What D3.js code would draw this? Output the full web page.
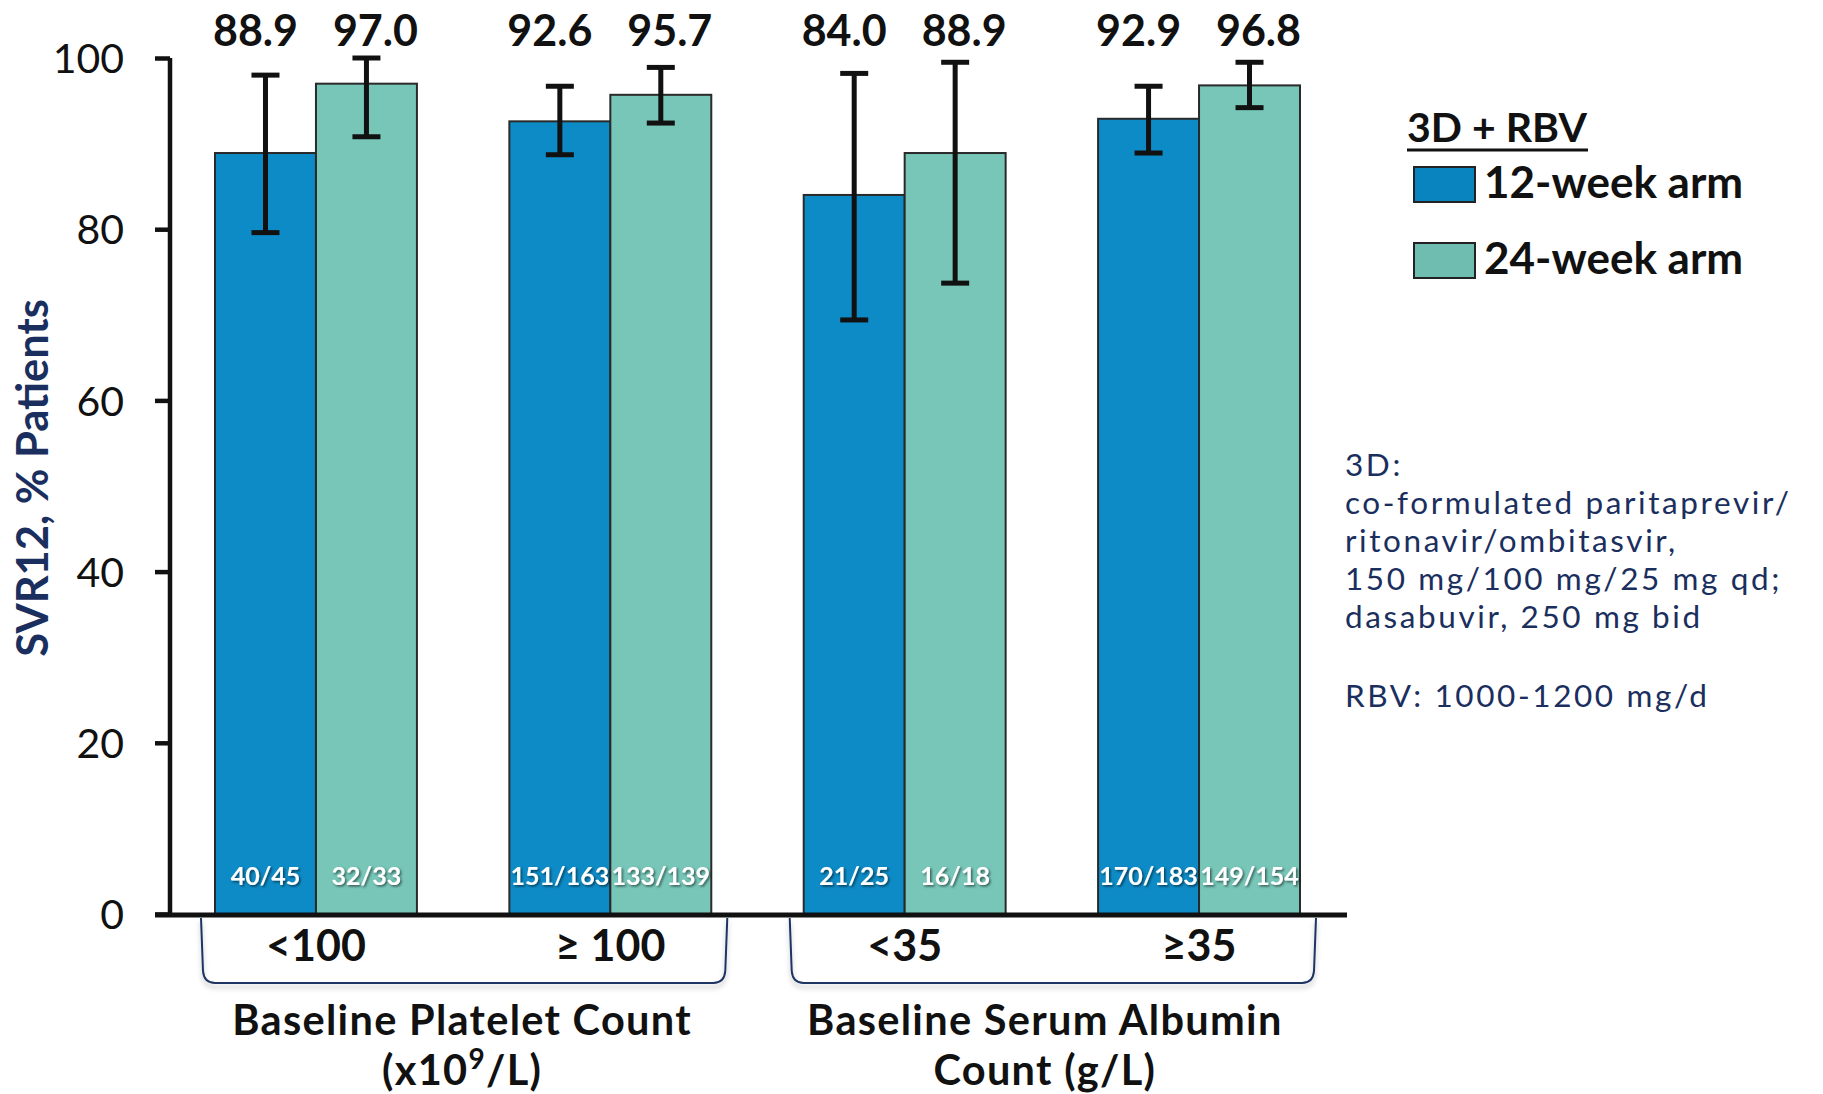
<!DOCTYPE html>
<html>
<head>
<meta charset="utf-8">
<script src="https://cdn.jsdelivr.net/npm/d3@7"></script>
<style>
  html, body { margin: 0; padding: 0; background: #fff; }
  svg { display: block; font-family: Lato, "Open Sans", sans-serif; }
</style>
</head>
<body>
<svg id="chart" width="1823" height="1094"></svg>
<script>
// ---- data ----
const categories = ["<100", "\u2265 100", "<35", "\u226535"];
const seriesNames = ["12-week arm", "24-week arm"];
const week12 = [88.9, 92.6, 84.0, 92.9];
const week24 = [97.0, 95.7, 88.9, 96.8];
const week12Low = [79.6, 88.7, 69.4, 88.9];
const week12High = [98.0, 96.7, 98.2, 96.7];
const week24Low = [90.8, 92.4, 73.7, 94.2];
const week24High = [100.0, 98.9, 99.5, 99.5];
const week12Counts = ["40/45", "151/163", "21/25", "170/183"];
const week24Counts = ["32/33", "133/139", "16/18", "149/154"];
const groupTitles = [["Baseline Platelet Count", "(x10", "9", "/L)"], ["Baseline Serum Albumin", "Count (g/L)"]];
const yTicks = [0, 20, 40, 60, 80, 100];
const legendTitle = "3D + RBV";
const noteLines = ["3D:", "co-formulated paritaprevir/", "ritonavir/ombitasvir,", "150 mg/100 mg/25 mg qd;", "dasabuvir, 250 mg bid", "", "RBV: 1000-1200 mg/d"];

// ---- styling ----
const colors = ["#0d8bc6", "#77c6b8"];
const legendColors = ["#0a84bf", "#6fbcb0"];
const navy = "#1b2f5e";

const svg = d3.select("#chart");
const defs = svg.append("defs");
const f1 = defs.append("filter").attr("id", "txtShadow").attr("x", "-20%").attr("y", "-30%").attr("width", "140%").attr("height", "160%");
f1.append("feDropShadow").attr("dx", 1.5).attr("dy", 1.5).attr("stdDeviation", 0.8).attr("flood-color", "#000").attr("flood-opacity", 0.55);
const f2 = defs.append("filter").attr("id", "brShadow").attr("x", "-5%").attr("y", "-20%").attr("width", "110%").attr("height", "150%");
f2.append("feDropShadow").attr("dx", 0).attr("dy", 4).attr("stdDeviation", 2.5).attr("flood-color", "#000").attr("flood-opacity", 0.25);

const axisX = 170;
const y = d3.scaleLinear().domain([0, 100]).range([914, 58]);
const x = d3.scaleBand().domain(categories).range([215, 1300]).paddingInner(0.314).paddingOuter(0);
const xs = d3.scaleBand().domain([0, 1]).range([0, x.bandwidth()]);

const rows = categories.map((c, i) => ({
  cat: c,
  vals: [
    {s: 0, v: week12[i], lo: week12Low[i], hi: week12High[i], n: week12Counts[i]},
    {s: 1, v: week24[i], lo: week24Low[i], hi: week24High[i], n: week24Counts[i]}
  ]
}));

// bars
const g = svg.append("g");
const grp = g.selectAll("g.grp").data(rows).join("g").attr("class", "grp")
  .attr("transform", d => `translate(${x(d.cat)},0)`);

grp.selectAll("rect").data(d => d.vals).join("rect")
  .attr("x", d => xs(d.s))
  .attr("y", d => y(d.v))
  .attr("width", xs.bandwidth())
  .attr("height", d => y(0) - y(d.v))
  .attr("fill", d => colors[d.s])
  .attr("stroke", "#2a2a2a")
  .attr("stroke-width", 2);

// error bars
const capW = 28;
const eb = grp.selectAll("g.eb").data(d => d.vals).join("g").attr("class", "eb")
  .attr("transform", d => `translate(${xs(d.s) + xs.bandwidth() / 2},0)`);
eb.append("line").attr("x1", 0).attr("x2", 0).attr("y1", d => y(d.hi)).attr("y2", d => y(d.lo))
  .attr("stroke", "#111").attr("stroke-width", 5);
eb.append("line").attr("x1", -capW / 2).attr("x2", capW / 2).attr("y1", d => y(d.hi)).attr("y2", d => y(d.hi))
  .attr("stroke", "#111").attr("stroke-width", 5);
eb.append("line").attr("x1", -capW / 2).attr("x2", capW / 2).attr("y1", d => y(d.lo)).attr("y2", d => y(d.lo))
  .attr("stroke", "#111").attr("stroke-width", 5);

// value labels
grp.selectAll("text.val").data(d => d.vals).join("text").attr("class", "val")
  .attr("x", d => xs(d.s) + xs.bandwidth() / 2 + (d.s === 0 ? -10 : 9))
  .attr("y", 46)
  .attr("text-anchor", "middle")
  .attr("font-size", 43).attr("font-weight", 700).attr("fill", "#111")
  .text(d => d.v.toFixed(1));

// count labels
grp.selectAll("text.cnt").data(d => d.vals).join("text").attr("class", "cnt")
  .attr("x", d => xs(d.s) + xs.bandwidth() / 2)
  .attr("y", 885)
  .attr("text-anchor", "middle")
  .attr("font-size", 25).attr("font-weight", 700).attr("fill", "#fff")
  .attr("filter", "url(#txtShadow)")
  .text(d => d.n);

// y axis
const yAxis = d3.axisLeft(y).tickValues(yTicks).tickSize(15).tickSizeOuter(0).tickPadding(31);
const ya = svg.append("g").attr("transform", `translate(${axisX},0)`).call(yAxis);
ya.select(".domain").attr("stroke", "#111").attr("stroke-width", 4.5)
  .attr("d", `M0,${y(100)}V${y(0) + 2}`);
ya.selectAll(".tick line").attr("stroke", "#111").attr("stroke-width", 4.5);
ya.selectAll(".tick text").attr("font-size", 41).attr("fill", "#111")
  .attr("font-family", "Lato, sans-serif").attr("dy", "0.36em");

// x axis line
svg.append("line")
  .attr("x1", axisX - 15).attr("x2", x.range()[1] + 47)
  .attr("y1", y(0) + 1).attr("y2", y(0) + 1)
  .attr("stroke", "#111").attr("stroke-width", 5);

// category labels
svg.selectAll("text.cat").data(categories).join("text").attr("class", "cat")
  .attr("x", d => x(d) + x.bandwidth() / 2)
  .attr("y", 961)
  .attr("text-anchor", "middle")
  .attr("font-size", 43).attr("font-weight", 700).attr("fill", "#111")
  .text(d => d);

// brackets + group titles
const pairs = [[categories[0], categories[1]], [categories[2], categories[3]]];
pairs.forEach((p, i) => {
  const x0 = x(p[0]) - 14, x1 = x(p[1]) + x.bandwidth() + 16;
  const top = y(0) + 4, bot = 983;
  svg.append("path")
    .attr("d", `M${x0},${top} L${x0 + 2},${bot - 12} Q${x0 + 3},${bot} ${x0 + 14},${bot} L${x1 - 14},${bot} Q${x1 - 3},${bot} ${x1 - 2},${bot - 12} L${x1},${top}`)
    .attr("fill", "none").attr("stroke", "#1f3464").attr("stroke-width", 2)
    .attr("filter", "url(#brShadow)");
  const cx = (x0 + x1) / 2 + (i === 0 ? -2 : -8);
  svg.append("text").attr("x", cx).attr("y", 1035).attr("text-anchor", "middle")
    .attr("font-size", 41.5).attr("letter-spacing", 1.3).attr("font-weight", 700).attr("fill", "#111")
    .text(groupTitles[i][0]);
  const t2 = svg.append("text").attr("x", cx).attr("y", 1085).attr("text-anchor", "middle")
    .attr("font-size", 41.5).attr("letter-spacing", 1.3).attr("font-weight", 700).attr("fill", "#111");
  if (i === 0) {
    t2.append("tspan").text(groupTitles[i][1]);
    t2.append("tspan").attr("font-size", 28).attr("dy", -16).text(groupTitles[i][2]);
    t2.append("tspan").attr("dy", 16).text(groupTitles[i][3]);
  } else {
    t2.text(groupTitles[i][1]);
  }
});

// y title
svg.append("text")
  .attr("transform", "translate(48,478) rotate(-90)")
  .attr("text-anchor", "middle")
  .attr("font-size", 43.5).attr("font-weight", 700).attr("fill", navy)
  .text("SVR12, % Patients");

// legend
const lg = svg.append("g");
lg.append("text").attr("x", 1407).attr("y", 142)
  .attr("font-size", 41).attr("font-weight", 700).attr("fill", "#111").text(legendTitle);
lg.append("line").attr("x1", 1407).attr("x2", 1588).attr("y1", 150).attr("y2", 150)
  .attr("stroke", "#111").attr("stroke-width", 3);
seriesNames.forEach((s, i) => {
  const yy = 167 + i * 76;
  lg.append("rect").attr("x", 1414).attr("y", yy).attr("width", 61).attr("height", 35)
    .attr("fill", legendColors[i]).attr("stroke", "#222").attr("stroke-width", 2);
  lg.append("text").attr("x", 1484).attr("y", yy + 31)
    .attr("font-size", 44).attr("font-weight", 700).attr("fill", "#111").text(s);
});

// notes
const noteY = [476, 514, 552, 590, 628, 0, 707];
noteLines.forEach((l, i) => {
  if (!l) return;
  svg.append("text").attr("x", 1345).attr("y", noteY[i])
    .attr("font-size", 31.5).attr("letter-spacing", 2.6).attr("fill", navy).text(l);
});
</script>
</body>
</html>
